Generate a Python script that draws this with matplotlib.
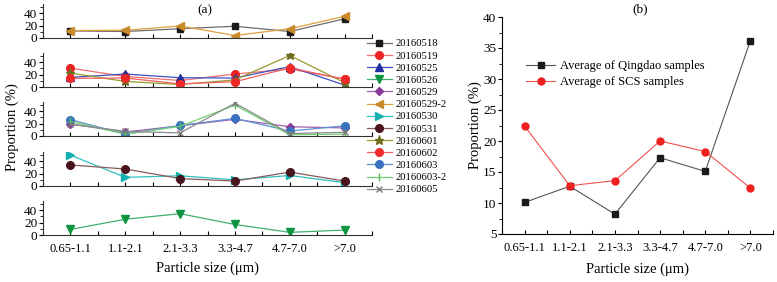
import matplotlib
matplotlib.use("Agg")
import matplotlib.pyplot as plt
from matplotlib.ticker import MultipleLocator, FixedLocator

plt.rcParams['font.family'] = ['Liberation Serif', 'DejaVu Serif']
plt.rcParams['mathtext.fontset'] = 'stix'

sizes = ["0.65-1.1", "1.1-2.1", "2.1-3.3", "3.3-4.7", "4.7-7.0", ">7.0"]

# Panel (a) sample series
s20160518 = [11.5, 10.5, 15, 19, 10.5, 31]
s20160529_2 = [12, 12.5, 19.5, 4, 15, 35]
s20160519 = [30.5, 17, 10.5, 21, 29, 13]
s20160525 = [15.5, 21, 15, 14.5, 33, 3]
s20160601 = [22.5, 9, 4, 11.5, 51, 7]
s20160602 = [14, 14.5, 5, 8.5, 31, 12.5]
s20160529 = [19.5, 6.5, 16.5, 27, 15, 13]
s20160603 = [26.5, 3, 17, 28.5, 8, 16.5]
s20160603_2 = [23.5, 3, 15.5, 50, 2, 3]
s20160605 = [19, 7.5, 5, 53, 4, 6]
s20160530 = [50, 14, 16.5, 10, 17, 5.5]
s20160531 = [34, 27.5, 12, 8, 22.5, 8]
s20160526 = [9, 25.5, 34.5, 17, 4.3, 8]

# Panel (b) averages
qingdao_avg = [10.1, 12.7, 8.2, 17.3, 15.1, 36.2]
scs_avg = [22.4, 12.8, 13.6, 20.0, 18.3, 12.4]

W, H = 777, 282
fig = plt.figure(figsize=(W / 100, H / 100), dpi=100)

x = list(range(1, len(sizes) + 1))

# (label, data, color, linecolor, marker, ms, panel)
series = [
    ("20160518", s20160518, "#1a1a1a", "#6e6e6e", "s", 5, 0),
    ("20160519", s20160519, "#ee2222", "#f07070", "o", 5.5, 1),
    ("20160525", s20160525, "#2030a0", "#4050c0", "^", 5.5, 1),
    ("20160526", s20160526, "#0f9440", "#40b070", "v", 5.5, 4),
    ("20160529", s20160529, "#8a3a9a", "#a060b0", "D", 4.5, 2),
    ("20160529-2", s20160529_2, "#c98a2a", "#e0a040", "<", 5.5, 0),
    ("20160530", s20160530, "#14b0b0", "#30c0c0", ">", 5.5, 3),
    ("20160531", s20160531, "#4a141c", "#8a5a5a", "o", 5.5, 3),
    ("20160601", s20160601, "#6e6e1e", "#9a9a30", "*", 6.5, 1),
    ("20160602", s20160602, "#f02828", "#f06060", "o", 5.5, 1),
    ("20160603", s20160603, "#3a72c0", "#6090d0", "o", 5.5, 2),
    ("20160603-2", s20160603_2, "#50c050", "#70d070", "|", 6, 2),
    ("20160605", s20160605, "#7a7a7a", "#8a8a8a", "x", 5, 2),
]

left_px, right_px = 43, 372
bottoms = [38, 87, 136, 186, 235]
ph = 34
axes_a = []
for b in bottoms:
    ax = fig.add_axes([left_px / W, 1 - b / H, (right_px - left_px) / W, ph / H])
    axes_a.append(ax)

handles = []
for label, data, mc, lc, mk, ms, p in series:
    ax = axes_a[p]
    ln, = ax.plot(x, data, color=lc, lw=0.9, marker=mk, markersize=ms,
                  markerfacecolor=mc, markeredgecolor=mc, markeredgewidth=1.0,
                  label=label)
    handles.append(ln)

for i, ax in enumerate(axes_a):
    ax.set_xlim(0.5, 6.5)
    ax.set_ylim(0, 55)
    ax.spines['top'].set_visible(False)
    ax.spines['right'].set_visible(False)
    ax.spines['left'].set_color('#333333')
    ax.spines['bottom'].set_color('#333333')
    ax.xaxis.set_major_locator(FixedLocator(x))
    ax.xaxis.set_minor_locator(MultipleLocator(0.5))
    ax.yaxis.set_major_locator(FixedLocator([0, 20, 40]))
    ax.yaxis.set_minor_locator(FixedLocator([10, 30, 50]))
    ax.tick_params(axis='x', which='both', direction='in', length=3, width=0.8)
    ax.tick_params(axis='y', which='major', direction='out', length=3, width=0.8, labelsize=9.5, pad=1)
    ax.tick_params(axis='y', which='minor', direction='out', length=2, width=0.6)
    if i == len(axes_a) - 1:
        ax.set_xticklabels(sizes, fontsize=9)
        ax.tick_params(axis='x', pad=6)
    else:
        ax.set_xticklabels([])

fig.legend(handles=handles, loc='upper left', bbox_to_anchor=(367 / W, 1 - 39 / H),
           frameon=False, fontsize=7.7, handlelength=2.3, handletextpad=0.4,
           labelspacing=0.25, borderaxespad=0, borderpad=0)

fig.text(205 / W, 1 - 10 / H, "(a)", fontsize=9.5, ha='center', va='center')
fig.text(12 / W, 1 - 127 / H, "Proportion (%)", fontsize=10.5, rotation=90, ha='center', va='center')
fig.text(207 / W, 1 - 268 / H, "Particle size (μm)", fontsize=10.5, ha='center', va='center')

# Panel (b)
axb = fig.add_axes([502 / W, 1 - 234 / H, (773 - 502) / W, (234 - 17) / H])
axb.plot(x, qingdao_avg, color='#555555', lw=0.8, marker='s', markersize=4.5,
         markerfacecolor='#1a1a1a', markeredgecolor='#1a1a1a', label='Average of Qingdao samples')
axb.plot(x, scs_avg, color='#f05050', lw=0.8, marker='o', markersize=5,
         markerfacecolor='#ee2020', markeredgecolor='#ee2020', label='Average of SCS samples')
axb.set_xlim(0.5, 6.5)
axb.set_ylim(5, 40)
axb.spines['top'].set_visible(False)
axb.spines['right'].set_visible(False)
axb.xaxis.set_major_locator(FixedLocator(x))
axb.xaxis.set_minor_locator(MultipleLocator(0.5))
axb.set_xticklabels(sizes, fontsize=9)
axb.yaxis.set_major_locator(MultipleLocator(5))
axb.yaxis.set_minor_locator(MultipleLocator(2.5))
axb.tick_params(axis='x', which='both', direction='in', length=3, width=0.8, pad=6)
axb.tick_params(axis='y', which='major', direction='out', length=3, width=0.8, labelsize=9.5, pad=1)
axb.tick_params(axis='y', which='minor', direction='out', length=2, width=0.6)
axb.set_xlabel("Particle size (μm)", fontsize=10.5, labelpad=6)
axb.set_ylabel("Proportion (%)", fontsize=10.5, labelpad=1)
axb.legend(loc='upper left', bbox_to_anchor=(0.09, 0.80), frameon=False, fontsize=9,
           handlelength=2.3, handletextpad=0.4, labelspacing=0.3, borderaxespad=0, borderpad=0)
fig.text(640 / W, 1 - 9 / H, "(b)", fontsize=9.5, ha='center', va='center')

fig.savefig("out.png", dpi=100)
